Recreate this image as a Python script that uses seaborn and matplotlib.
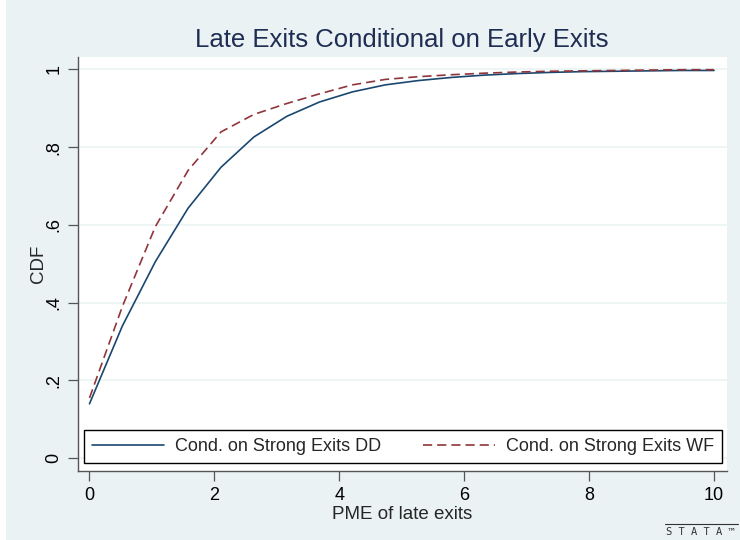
import matplotlib
matplotlib.use("Agg")
import matplotlib.pyplot as plt
import seaborn as sns
import numpy as np
import pandas as pd

# data
pme = [0.0, 0.526, 1.053, 1.579, 2.105, 2.632, 3.158, 3.684, 4.211, 4.737,
       5.263, 5.789, 6.316, 6.842, 7.368, 7.895, 8.421, 8.947, 9.474, 10.0]
cdf_dd = [0.140, 0.340, 0.505, 0.643, 0.748, 0.826, 0.879, 0.916, 0.942, 0.960,
          0.971, 0.979, 0.985, 0.989, 0.992, 0.994, 0.995, 0.996, 0.997, 0.997]
cdf_wf = [0.155, 0.390, 0.595, 0.740, 0.839, 0.884, 0.912, 0.937, 0.960, 0.974,
          0.981, 0.986, 0.990, 0.993, 0.995, 0.996, 0.997, 0.998, 0.999, 0.999]
series = ["Cond. on Strong Exits DD", "Cond. on Strong Exits WF"]
yticks = [0, 0.2, 0.4, 0.6, 0.8, 1.0]
ytick_labels = ["0", ".2", ".4", ".6", ".8", "1"]
xticks = [0, 2, 4, 6, 8, 10]

df = pd.DataFrame({
    "pme": pme + pme,
    "cdf": cdf_dd + cdf_wf,
    "series": [series[0]] * len(pme) + [series[1]] * len(pme),
})

sns.set_style("white")
plt.rcParams["font.family"] = ["Liberation Sans", "DejaVu Sans"]

BG = "#EAF2F3"
fig = plt.figure(figsize=(7.4, 5.4), dpi=100)
fig.patch.set_facecolor("white")
fig.patches.append(plt.Rectangle((6 / 740, 0), 1, 1, transform=fig.transFigure,
                                 facecolor=BG, edgecolor="none", zorder=-10))
ax = fig.add_axes([78 / 740, 1 - 470.7 / 540, 649 / 740, 414 / 540])
ax.set_facecolor("white")

sns.lineplot(data=df, x="pme", y="cdf", hue="series", style="series",
             palette=["#1A476F", "#90353B"], dashes=[(None, None), (5.5, 3)],
             linewidth=1.2, ax=ax)

ax.set_xlim(-0.184, 10.208)
ax.set_ylim(-0.032, 1.0324)
ax.set_xticks(xticks)
ax.set_xticklabels([str(t) for t in xticks])
ax.set_yticks(yticks)
ax.set_yticklabels(ytick_labels, rotation=90, va="center")
ax.grid(axis="y", color=BG, linewidth=1.1)
ax.set_axisbelow(True)

for s in ["top", "right"]:
    ax.spines[s].set_visible(False)
for s in ["left", "bottom"]:
    ax.spines[s].set_color("#555555")
    ax.spines[s].set_linewidth(1.0)
ax.tick_params(axis="both", direction="out", length=7, width=0.9, color="#555555",
               labelsize=13, labelcolor="black", bottom=True, left=True)
ax.tick_params(axis="x", pad=5)
ax.tick_params(axis="y", pad=4)

ax.set_xlabel("PME of late exits", fontsize=13.5, labelpad=1)
ax.set_ylabel("CDF", fontsize=13.5, labelpad=-1)
fig.text(402 / 740, 1 - 39.5 / 540, "Late Exits Conditional on Early Exits",
         ha="center", va="center", fontsize=18.5, color="#1E2D53")

leg = ax.legend(loc="lower left", bbox_to_anchor=(0.009, 0.018, 0.983, 0.08),
                mode="expand", ncol=2, borderaxespad=0, fontsize=13,
                handlelength=4.0, handletextpad=0.6, borderpad=0.45,
                frameon=True, fancybox=False)
leg.get_frame().set_edgecolor("black")
leg.get_frame().set_linewidth(1.0)
leg.get_frame().set_facecolor("white")
leg.get_frame().set_alpha(1)

# Stata logo mark
fig.text(700 / 740, 1 - 532 / 540, "S T A T A \u2122", ha="center", va="center",
         fontsize=7.5, color="#333333", family="DejaVu Sans Mono")
fig.add_artist(plt.Line2D([665 / 740, 738 / 740], [1 - 523.5 / 540, 1 - 523.5 / 540],
                          transform=fig.transFigure, color="#333333", linewidth=0.8))

fig.savefig("out.png", dpi=100, facecolor=fig.get_facecolor())
